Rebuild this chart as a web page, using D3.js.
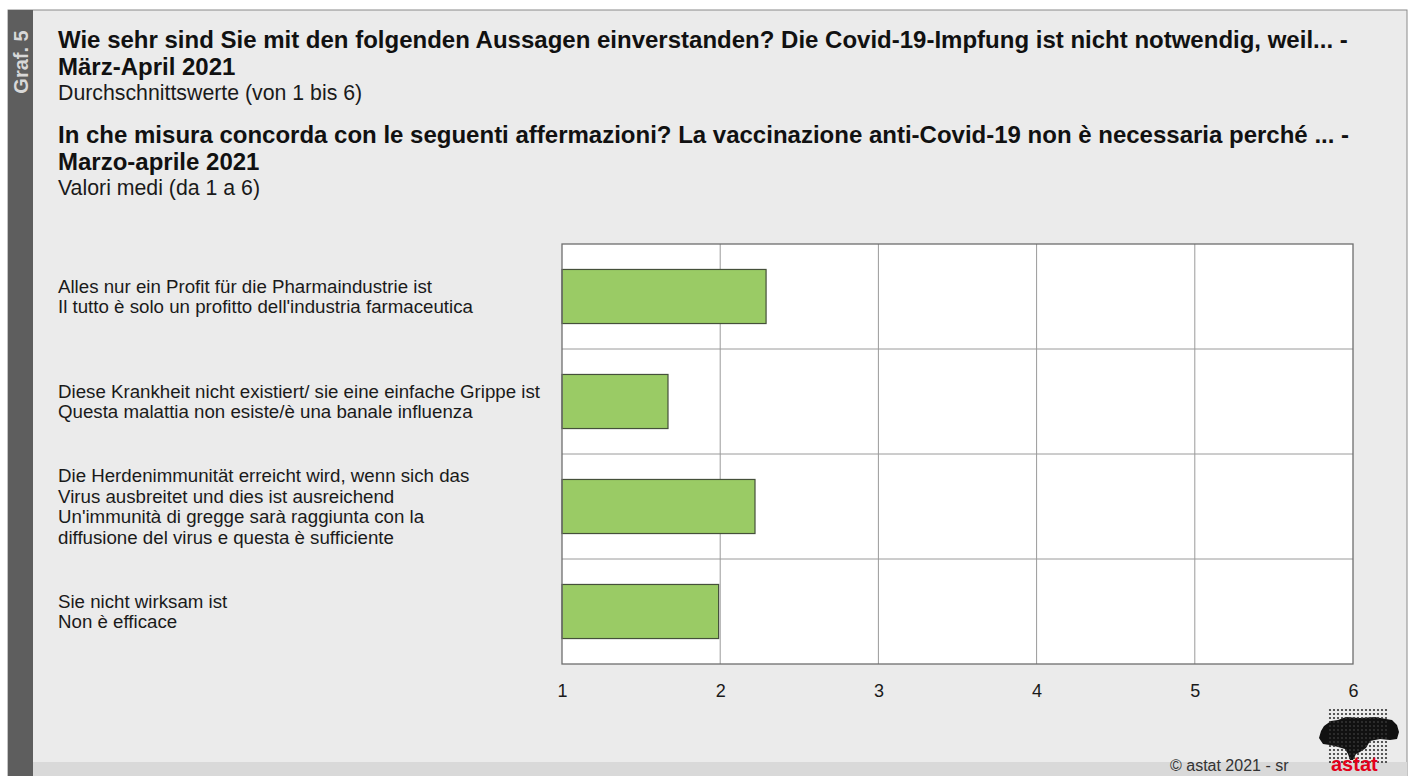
<!DOCTYPE html>
<html><head><meta charset="utf-8">
<script src="https://cdn.jsdelivr.net/npm/d3@7"></script>
<style>html,body{margin:0;padding:0;background:#fff;overflow:hidden}svg{display:block}text{font-family:"Liberation Sans",Arial,sans-serif}</style>
</head><body>
<script>
// ---- data ----
const titleDE = ["Wie sehr sind Sie mit den folgenden Aussagen einverstanden? Die Covid-19-Impfung ist nicht notwendig, weil... -", "März-April 2021"];
const subtitleDE = "Durchschnittswerte (von 1 bis 6)";
const titleIT = ["In che misura concorda con le seguenti affermazioni? La vaccinazione anti-Covid-19 non è necessaria perché ... -", "Marzo-aprile 2021"];
const subtitleIT = "Valori medi (da 1 a 6)";
const categories = [
  ["Alles nur ein Profit für die Pharmaindustrie ist", "Il tutto è solo un profitto dell'industria farmaceutica"],
  ["Diese Krankheit nicht existiert/ sie eine einfache Grippe ist", "Questa malattia non esiste/è una banale influenza"],
  ["Die Herdenimmunität erreicht wird, wenn sich das", "Virus ausbreitet und dies ist ausreichend", "Un'immunità di gregge sarà raggiunta con la", "diffusione del virus e questa è sufficiente"],
  ["Sie nicht wirksam ist", "Non è efficace"]
];
const values = [2.29, 1.67, 2.22, 1.99];
const xTicks = [1, 2, 3, 4, 5, 6];
const sideLabel = "Graf. 5";
const footerText = "© astat 2021 - sr";
const logoText = "astat";

// ---- layout ----
const W = 1410, H = 776;
const svg = d3.select("body").append("svg").attr("width", W).attr("height", H);

svg.append("rect").attr("x", 0).attr("y", 0).attr("width", W).attr("height", H).attr("fill", "#fff");
svg.append("rect").attr("x", 8).attr("y", 10).attr("width", 1399).attr("height", 780).attr("fill", "#ebebeb").attr("stroke", "#8a8a8a").attr("stroke-width", 1);
svg.append("rect").attr("x", 33).attr("y", 762).attr("width", 1374).attr("height", 20).attr("fill", "#d9d9d9");
svg.append("rect").attr("x", 8).attr("y", 10).attr("width", 25).attr("height", 770).attr("fill", "#5e5e5e");
svg.append("text").attr("transform", "translate(27.5,62) rotate(-90)").attr("text-anchor", "middle")
  .attr("font-size", 20).attr("font-weight", "bold").attr("fill", "#d8d8d8").text(sideLabel);

// titles
const tx = 58;
function titleBlock(lines, sub, y0) {
  lines.forEach((l, i) => svg.append("text").attr("x", tx).attr("y", y0 + i * 27)
    .attr("font-size", 24).attr("font-weight", "bold").attr("fill", "#111").text(l));
  svg.append("text").attr("x", tx).attr("y", y0 + lines.length * 27 - 2)
    .attr("font-size", 21.3).attr("fill", "#1a1a1a").text(sub);
}
titleBlock(titleDE, subtitleDE, 48);
titleBlock(titleIT, subtitleIT, 143);

// plot
const pl = 562, pr = 1353, pt = 244, pb = 664;
const x = d3.scaleLinear().domain([1, 6]).range([pl, pr]);
const y = d3.scaleBand().domain(d3.range(categories.length)).range([pt, pb]).padding(0);

svg.append("rect").attr("x", pl).attr("y", pt).attr("width", pr - pl).attr("height", pb - pt).attr("fill", "#fff");

svg.append("g").selectAll("line.v").data(xTicks.slice(1, -1)).join("line")
  .attr("x1", d => x(d)).attr("x2", d => x(d)).attr("y1", pt).attr("y2", pb)
  .attr("stroke", "#9a9a9a").attr("stroke-width", 1);
svg.append("g").selectAll("line.h").data(d3.range(1, categories.length)).join("line")
  .attr("x1", pl).attr("x2", pr).attr("y1", d => y(d)).attr("y2", d => y(d))
  .attr("stroke", "#9a9a9a").attr("stroke-width", 1);

const bh = y.bandwidth() * 0.515;
svg.append("g").selectAll("rect").data(values).join("rect")
  .attr("x", x(1)).attr("y", (d, i) => y(i) + (y.bandwidth() - bh) / 2)
  .attr("width", d => x(d) - x(1)).attr("height", bh)
  .attr("fill", "#9acb65").attr("stroke", "#45503a").attr("stroke-width", 1.2);

svg.append("rect").attr("x", pl).attr("y", pt).attr("width", pr - pl).attr("height", pb - pt)
  .attr("fill", "none").attr("stroke", "#6e6e6e").attr("stroke-width", 1.3);

// x axis labels
const ax = svg.append("g").attr("transform", `translate(0,${pb})`)
  .call(d3.axisBottom(x).tickValues(xTicks).tickFormat(d3.format("d")).tickSize(0).tickPadding(20));
ax.select(".domain").remove();
ax.selectAll("text").attr("font-size", 18).attr("fill", "#1a1a1a").attr("font-family", '"Liberation Sans",Arial,sans-serif');

// category labels
const lh = 20.7;
categories.forEach((lines, i) => {
  const cy = y(i) + y.bandwidth() / 2;
  const first = cy + 6.5 - (lines.length - 1) * lh / 2;
  lines.forEach((l, j) => svg.append("text").attr("x", tx).attr("y", first + j * lh)
    .attr("font-size", 18.7).attr("fill", "#1a1a1a").text(l));
});

// footer + logo
svg.append("text").attr("x", 1170).attr("y", 771).attr("font-size", 16).attr("fill", "#333").text(footerText);
const logo = svg.append("g");
const blob = "M1324,726 L1331,721 L1338,720 L1346,717 L1360,718 L1375,717 L1386,719 L1392,720 L1397,725 L1399,732 L1397,739 L1390,740 L1380,739 L1370,741 L1366,748 L1360,752 L1356,754 L1353,760 L1350,760 L1348,754 L1345,749 L1338,747 L1330,745 L1323,744 L1319,738 L1321,731 Z";
logo.append("path").attr("d", blob).attr("fill", "#111");
const dots = [];
d3.range(1330, 1387, 4).forEach(dx => d3.range(710, 763, 4).forEach(dy => dots.push([dx, dy])));
logo.selectAll("circle").data(dots).join("circle").attr("cx", d => d[0]).attr("cy", d => d[1]).attr("r", 1.1).attr("fill", "#333");
svg.append("text").attr("x", 1331).attr("y", 771).attr("font-size", 20).attr("font-weight", "bold").attr("fill", "#e3001b").text(logoText);
</script>
</body></html>
